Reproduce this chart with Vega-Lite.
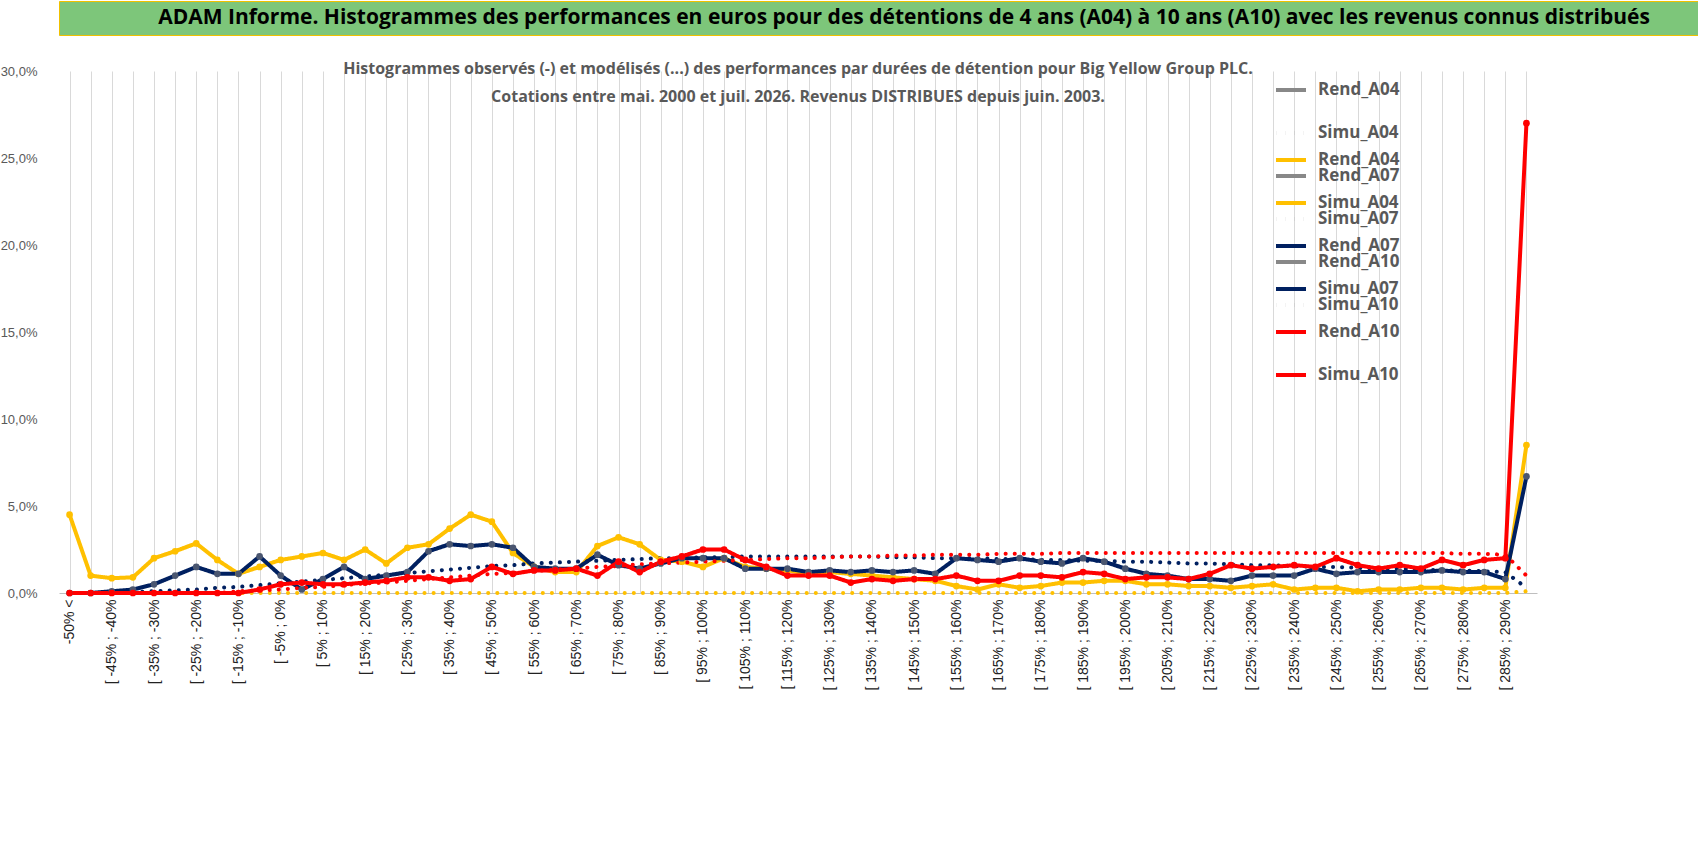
{
  "$schema": "https://vega.github.io/schema/vega-lite/v6.json",
  "padding": 0,
  "spacing": 25,
  "background": "white",
  "config": {"view": {"stroke": null}, "font": "Liberation Sans"},
  "vconcat": [
    {
      "width": 1690,
      "height": 34,
      "view": {"fill": "#7dc67a", "stroke": "#f0c000"},
      "data": {"values": [{"t": "ADAM Informe. Histogrammes des performances en euros pour des détentions de 4 ans (A04) à 10 ans (A10) avec les revenus connus distribués"}]},
      "mark": {"type": "text", "fontSize": 21, "fontWeight": "bold", "font": "Open Sans", "color": "black"},
      "encoding": {"text": {"field": "t"}}
    },
    {
      "width": 1478,
      "height": 522,
      "title": {
        "text": ["Histogrammes observés (-) et modélisés (...) des performances par durées de détention pour Big Yellow Group PLC.", "Cotations entre mai. 2000 et juil. 2026. Revenus DISTRIBUES depuis juin. 2003."],
        "fontSize": 16, "fontWeight": "bold", "color": "#595959", "font": "Open Sans", "offset": -40, "lineHeight": 28
      },
      "data": {"values": [
        {"c":"-50% <","Rend_A04":4.5,"Simu_A04":0,"Rend_A07":0,"Simu_A07":0,"Rend_A10":0,"Simu_A10":0},
        {"c":"[ -50% ; -45%","Rend_A04":1.0,"Simu_A04":0,"Rend_A07":0,"Simu_A07":0,"Rend_A10":0,"Simu_A10":0},
        {"c":"[ -45% ; -40%","Rend_A04":0.85,"Simu_A04":0,"Rend_A07":0.1,"Simu_A07":0,"Rend_A10":0,"Simu_A10":0},
        {"c":"[ -40% ; -35%","Rend_A04":0.9,"Simu_A04":0,"Rend_A07":0.2,"Simu_A07":0.05,"Rend_A10":0,"Simu_A10":0},
        {"c":"[ -35% ; -30%","Rend_A04":2.0,"Simu_A04":0,"Rend_A07":0.5,"Simu_A07":0.1,"Rend_A10":0,"Simu_A10":0},
        {"c":"[ -30% ; -25%","Rend_A04":2.4,"Simu_A04":0,"Rend_A07":1.0,"Simu_A07":0.15,"Rend_A10":0,"Simu_A10":0},
        {"c":"[ -25% ; -20%","Rend_A04":2.85,"Simu_A04":0,"Rend_A07":1.5,"Simu_A07":0.2,"Rend_A10":0,"Simu_A10":0},
        {"c":"[ -20% ; -15%","Rend_A04":1.9,"Simu_A04":0,"Rend_A07":1.1,"Simu_A07":0.3,"Rend_A10":0,"Simu_A10":0},
        {"c":"[ -15% ; -10%","Rend_A04":1.1,"Simu_A04":0,"Rend_A07":1.1,"Simu_A07":0.35,"Rend_A10":0,"Simu_A10":0.1},
        {"c":"[ -10% ; -5%","Rend_A04":1.5,"Simu_A04":0,"Rend_A07":2.1,"Simu_A07":0.45,"Rend_A10":0.2,"Simu_A10":0.15},
        {"c":"[ -5% ; 0%","Rend_A04":1.9,"Simu_A04":0,"Rend_A07":1.0,"Simu_A07":0.55,"Rend_A10":0.5,"Simu_A10":0.2},
        {"c":"[ 0% ; 5%","Rend_A04":2.1,"Simu_A04":0,"Rend_A07":0.2,"Simu_A07":0.65,"Rend_A10":0.6,"Simu_A10":0.3},
        {"c":"[ 5% ; 10%","Rend_A04":2.3,"Simu_A04":0,"Rend_A07":0.8,"Simu_A07":0.75,"Rend_A10":0.5,"Simu_A10":0.35},
        {"c":"[ 10% ; 15%","Rend_A04":1.9,"Simu_A04":0,"Rend_A07":1.5,"Simu_A07":0.85,"Rend_A10":0.5,"Simu_A10":0.45},
        {"c":"[ 15% ; 20%","Rend_A04":2.5,"Simu_A04":0,"Rend_A07":0.8,"Simu_A07":0.95,"Rend_A10":0.6,"Simu_A10":0.55},
        {"c":"[ 20% ; 25%","Rend_A04":1.7,"Simu_A04":0,"Rend_A07":1.0,"Simu_A07":1.05,"Rend_A10":0.7,"Simu_A10":0.6},
        {"c":"[ 25% ; 30%","Rend_A04":2.6,"Simu_A04":0,"Rend_A07":1.2,"Simu_A07":1.15,"Rend_A10":0.9,"Simu_A10":0.7},
        {"c":"[ 30% ; 35%","Rend_A04":2.8,"Simu_A04":0,"Rend_A07":2.4,"Simu_A07":1.25,"Rend_A10":0.9,"Simu_A10":0.8},
        {"c":"[ 35% ; 40%","Rend_A04":3.7,"Simu_A04":0,"Rend_A07":2.8,"Simu_A07":1.35,"Rend_A10":0.7,"Simu_A10":0.9},
        {"c":"[ 40% ; 45%","Rend_A04":4.5,"Simu_A04":0,"Rend_A07":2.7,"Simu_A07":1.45,"Rend_A10":0.8,"Simu_A10":1.0},
        {"c":"[ 45% ; 50%","Rend_A04":4.1,"Simu_A04":0,"Rend_A07":2.8,"Simu_A07":1.55,"Rend_A10":1.5,"Simu_A10":1.1},
        {"c":"[ 50% ; 55%","Rend_A04":2.3,"Simu_A04":0,"Rend_A07":2.6,"Simu_A07":1.6,"Rend_A10":1.1,"Simu_A10":1.15},
        {"c":"[ 55% ; 60%","Rend_A04":1.5,"Simu_A04":0,"Rend_A07":1.5,"Simu_A07":1.7,"Rend_A10":1.3,"Simu_A10":1.25},
        {"c":"[ 60% ; 65%","Rend_A04":1.2,"Simu_A04":0,"Rend_A07":1.4,"Simu_A07":1.75,"Rend_A10":1.3,"Simu_A10":1.35},
        {"c":"[ 65% ; 70%","Rend_A04":1.2,"Simu_A04":0,"Rend_A07":1.4,"Simu_A07":1.8,"Rend_A10":1.4,"Simu_A10":1.4},
        {"c":"[ 70% ; 75%","Rend_A04":2.7,"Simu_A04":0,"Rend_A07":2.2,"Simu_A07":1.85,"Rend_A10":1.0,"Simu_A10":1.5},
        {"c":"[ 75% ; 80%","Rend_A04":3.2,"Simu_A04":0,"Rend_A07":1.6,"Simu_A07":1.9,"Rend_A10":1.8,"Simu_A10":1.55},
        {"c":"[ 80% ; 85%","Rend_A04":2.8,"Simu_A04":0,"Rend_A07":1.4,"Simu_A07":1.95,"Rend_A10":1.2,"Simu_A10":1.65},
        {"c":"[ 85% ; 90%","Rend_A04":1.9,"Simu_A04":0,"Rend_A07":1.7,"Simu_A07":2.0,"Rend_A10":1.8,"Simu_A10":1.7},
        {"c":"[ 90% ; 95%","Rend_A04":1.8,"Simu_A04":0,"Rend_A07":2.0,"Simu_A07":2.0,"Rend_A10":2.1,"Simu_A10":1.75},
        {"c":"[ 95% ; 100%","Rend_A04":1.5,"Simu_A04":0,"Rend_A07":2.0,"Simu_A07":2.05,"Rend_A10":2.5,"Simu_A10":1.8},
        {"c":"[ 100% ; 105%","Rend_A04":2.0,"Simu_A04":0,"Rend_A07":2.0,"Simu_A07":2.05,"Rend_A10":2.5,"Simu_A10":1.85},
        {"c":"[ 105% ; 110%","Rend_A04":1.5,"Simu_A04":0,"Rend_A07":1.4,"Simu_A07":2.1,"Rend_A10":1.9,"Simu_A10":1.9},
        {"c":"[ 110% ; 115%","Rend_A04":1.4,"Simu_A04":0,"Rend_A07":1.4,"Simu_A07":2.1,"Rend_A10":1.5,"Simu_A10":1.95},
        {"c":"[ 115% ; 120%","Rend_A04":1.3,"Simu_A04":0,"Rend_A07":1.4,"Simu_A07":2.1,"Rend_A10":1.0,"Simu_A10":2.0},
        {"c":"[ 120% ; 125%","Rend_A04":1.1,"Simu_A04":0,"Rend_A07":1.2,"Simu_A07":2.1,"Rend_A10":1.0,"Simu_A10":2.0},
        {"c":"[ 125% ; 130%","Rend_A04":1.2,"Simu_A04":0,"Rend_A07":1.3,"Simu_A07":2.1,"Rend_A10":1.0,"Simu_A10":2.05},
        {"c":"[ 130% ; 135%","Rend_A04":1.1,"Simu_A04":0,"Rend_A07":1.2,"Simu_A07":2.1,"Rend_A10":0.6,"Simu_A10":2.1},
        {"c":"[ 135% ; 140%","Rend_A04":1.0,"Simu_A04":0,"Rend_A07":1.3,"Simu_A07":2.1,"Rend_A10":0.8,"Simu_A10":2.1},
        {"c":"[ 140% ; 145%","Rend_A04":0.9,"Simu_A04":0,"Rend_A07":1.2,"Simu_A07":2.05,"Rend_A10":0.7,"Simu_A10":2.15},
        {"c":"[ 145% ; 150%","Rend_A04":0.8,"Simu_A04":0,"Rend_A07":1.3,"Simu_A07":2.05,"Rend_A10":0.8,"Simu_A10":2.15},
        {"c":"[ 150% ; 155%","Rend_A04":0.7,"Simu_A04":0,"Rend_A07":1.1,"Simu_A07":2.0,"Rend_A10":0.8,"Simu_A10":2.2},
        {"c":"[ 155% ; 160%","Rend_A04":0.4,"Simu_A04":0,"Rend_A07":2.0,"Simu_A07":2.0,"Rend_A10":1.0,"Simu_A10":2.2},
        {"c":"[ 160% ; 165%","Rend_A04":0.2,"Simu_A04":0,"Rend_A07":1.9,"Simu_A07":2.0,"Rend_A10":0.7,"Simu_A10":2.2},
        {"c":"[ 165% ; 170%","Rend_A04":0.5,"Simu_A04":0,"Rend_A07":1.8,"Simu_A07":1.95,"Rend_A10":0.7,"Simu_A10":2.25},
        {"c":"[ 170% ; 175%","Rend_A04":0.3,"Simu_A04":0,"Rend_A07":2.0,"Simu_A07":1.95,"Rend_A10":1.0,"Simu_A10":2.25},
        {"c":"[ 175% ; 180%","Rend_A04":0.4,"Simu_A04":0,"Rend_A07":1.8,"Simu_A07":1.9,"Rend_A10":1.0,"Simu_A10":2.25},
        {"c":"[ 180% ; 185%","Rend_A04":0.6,"Simu_A04":0,"Rend_A07":1.7,"Simu_A07":1.9,"Rend_A10":0.9,"Simu_A10":2.3},
        {"c":"[ 185% ; 190%","Rend_A04":0.6,"Simu_A04":0,"Rend_A07":2.0,"Simu_A07":1.85,"Rend_A10":1.2,"Simu_A10":2.3},
        {"c":"[ 190% ; 195%","Rend_A04":0.7,"Simu_A04":0,"Rend_A07":1.8,"Simu_A07":1.85,"Rend_A10":1.1,"Simu_A10":2.3},
        {"c":"[ 195% ; 200%","Rend_A04":0.7,"Simu_A04":0,"Rend_A07":1.4,"Simu_A07":1.8,"Rend_A10":0.8,"Simu_A10":2.3},
        {"c":"[ 200% ; 205%","Rend_A04":0.5,"Simu_A04":0,"Rend_A07":1.1,"Simu_A07":1.8,"Rend_A10":0.9,"Simu_A10":2.3},
        {"c":"[ 205% ; 210%","Rend_A04":0.5,"Simu_A04":0,"Rend_A07":1.0,"Simu_A07":1.75,"Rend_A10":0.9,"Simu_A10":2.3},
        {"c":"[ 210% ; 215%","Rend_A04":0.4,"Simu_A04":0,"Rend_A07":0.8,"Simu_A07":1.7,"Rend_A10":0.8,"Simu_A10":2.3},
        {"c":"[ 215% ; 220%","Rend_A04":0.4,"Simu_A04":0,"Rend_A07":0.8,"Simu_A07":1.7,"Rend_A10":1.1,"Simu_A10":2.3},
        {"c":"[ 220% ; 225%","Rend_A04":0.3,"Simu_A04":0,"Rend_A07":0.7,"Simu_A07":1.65,"Rend_A10":1.6,"Simu_A10":2.3},
        {"c":"[ 225% ; 230%","Rend_A04":0.4,"Simu_A04":0,"Rend_A07":1.0,"Simu_A07":1.6,"Rend_A10":1.4,"Simu_A10":2.3},
        {"c":"[ 230% ; 235%","Rend_A04":0.5,"Simu_A04":0,"Rend_A07":1.0,"Simu_A07":1.6,"Rend_A10":1.5,"Simu_A10":2.3},
        {"c":"[ 235% ; 240%","Rend_A04":0.2,"Simu_A04":0,"Rend_A07":1.0,"Simu_A07":1.55,"Rend_A10":1.6,"Simu_A10":2.3},
        {"c":"[ 240% ; 245%","Rend_A04":0.3,"Simu_A04":0,"Rend_A07":1.4,"Simu_A07":1.5,"Rend_A10":1.5,"Simu_A10":2.3},
        {"c":"[ 245% ; 250%","Rend_A04":0.3,"Simu_A04":0,"Rend_A07":1.1,"Simu_A07":1.5,"Rend_A10":2.0,"Simu_A10":2.3},
        {"c":"[ 250% ; 255%","Rend_A04":0.1,"Simu_A04":0,"Rend_A07":1.2,"Simu_A07":1.45,"Rend_A10":1.6,"Simu_A10":2.3},
        {"c":"[ 255% ; 260%","Rend_A04":0.2,"Simu_A04":0,"Rend_A07":1.2,"Simu_A07":1.4,"Rend_A10":1.4,"Simu_A10":2.3},
        {"c":"[ 260% ; 265%","Rend_A04":0.2,"Simu_A04":0,"Rend_A07":1.2,"Simu_A07":1.4,"Rend_A10":1.6,"Simu_A10":2.3},
        {"c":"[ 265% ; 270%","Rend_A04":0.3,"Simu_A04":0,"Rend_A07":1.2,"Simu_A07":1.35,"Rend_A10":1.4,"Simu_A10":2.3},
        {"c":"[ 270% ; 275%","Rend_A04":0.3,"Simu_A04":0,"Rend_A07":1.3,"Simu_A07":1.3,"Rend_A10":1.9,"Simu_A10":2.3},
        {"c":"[ 275% ; 280%","Rend_A04":0.2,"Simu_A04":0,"Rend_A07":1.2,"Simu_A07":1.3,"Rend_A10":1.6,"Simu_A10":2.25},
        {"c":"[ 280% ; 285%","Rend_A04":0.3,"Simu_A04":0,"Rend_A07":1.2,"Simu_A07":1.25,"Rend_A10":1.9,"Simu_A10":2.25},
        {"c":"[ 285% ; 290%","Rend_A04":0.3,"Simu_A04":0,"Rend_A07":0.8,"Simu_A07":1.2,"Rend_A10":2.0,"Simu_A10":2.2},
        {"c":"[ 290% ; 295%","Rend_A04":8.5,"Simu_A04":0.1,"Rend_A07":6.7,"Simu_A07":0.3,"Rend_A10":27.0,"Simu_A10":1.0}
      ]},
      "transform": [
        {"fold": ["Rend_A04", "Simu_A04", "Rend_A07", "Simu_A07", "Rend_A10", "Simu_A10"], "as": ["serie", "v"]}
      ],
      "encoding": {
        "x": {
          "field": "c", "type": "ordinal", "sort": null, "title": null,
          "scale": {"paddingOuter": 0.2},
          "axis": {
            "labelAngle": -90, "labelFontSize": 14, "labelColor": "#222", "labelPadding": 6,
            "labelExpr": "test(/5% ;/, datum.label) || datum.label == '-50% <' ? datum.label : ''",
            "grid": true, "gridColor": "#d9d9d9", "ticks": false, "domainColor": "#bfbfbf", "labelOverlap": false
          }
        },
        "y": {
          "field": "v", "type": "quantitative", "title": null,
          "scale": {"domain": [0, 30]},
          "axis": {"values": [0, 5, 10, 15, 20, 25, 30], "grid": false, "domain": false, "ticks": false,
            "labelExpr": "replace(format(datum.value, '.1f'), '.', ',') + '%'", "labelFontSize": 13, "labelColor": "#595959", "labelPadding": 22}
        }
      },
      "layer": [
        {
          "mark": {"type": "line", "strokeWidth": 4, "strokeCap": "round", "strokeJoin": "round"},
          "encoding": {
            "color": {
              "field": "serie", "type": "nominal",
              "scale": {"domain": ["Rend_A04", "Simu_A04", "Rend_A07", "Simu_A07", "Rend_A10", "Simu_A10"],
                "range": ["#ffc000", "#ffc000", "#002060", "#002060", "#ff0000", "#ff0000"]},
              "legend": {
                "title": null, "orient": "none", "legendX": 1215, "legendY": 72,
                "symbolType": "stroke", "symbolStrokeWidth": 4, "symbolSize": 900,
                "labelFontSize": 17, "labelFontWeight": "bold", "labelColor": "#595959", "labelFont": "Open Sans",
                "rowPadding": 18, "labelOffset": 10
              }
            },
            "strokeDash": {
              "field": "serie", "type": "nominal",
              "scale": {"domain": ["Rend_A04", "Simu_A04", "Rend_A07", "Simu_A07", "Rend_A10", "Simu_A10"],
                "range": [[1, 0], [0.1, 9], [1, 0], [0.1, 9], [1, 0], [0.1, 9]]},
              "legend": {
                "title": null, "orient": "none", "legendX": 1215, "legendY": 72,
                "symbolType": "stroke", "symbolStrokeWidth": 4, "symbolSize": 900,
                "labelFontSize": 17, "labelFontWeight": "bold", "labelColor": "#595959", "labelFont": "Open Sans",
                "rowPadding": 18, "labelOffset": 10
              }
            }
          }
        },
        {
          "transform": [{"filter": "indexof(datum.serie, 'Rend') == 0"}],
          "mark": {"type": "point", "filled": true, "size": 45, "opacity": 1},
          "encoding": {
            "color": {
              "field": "serie", "type": "nominal",
              "scale": {"domain": ["Rend_A04", "Simu_A04", "Rend_A07", "Simu_A07", "Rend_A10", "Simu_A10"],
                "range": ["#ffc000", "#ffc000", "#4a5670", "#002060", "#ff0000", "#ff0000"]},
              "legend": null
            }
          }
        }
      ],
      "resolve": {"scale": {"color": "independent"}}
    }
  ]
}
